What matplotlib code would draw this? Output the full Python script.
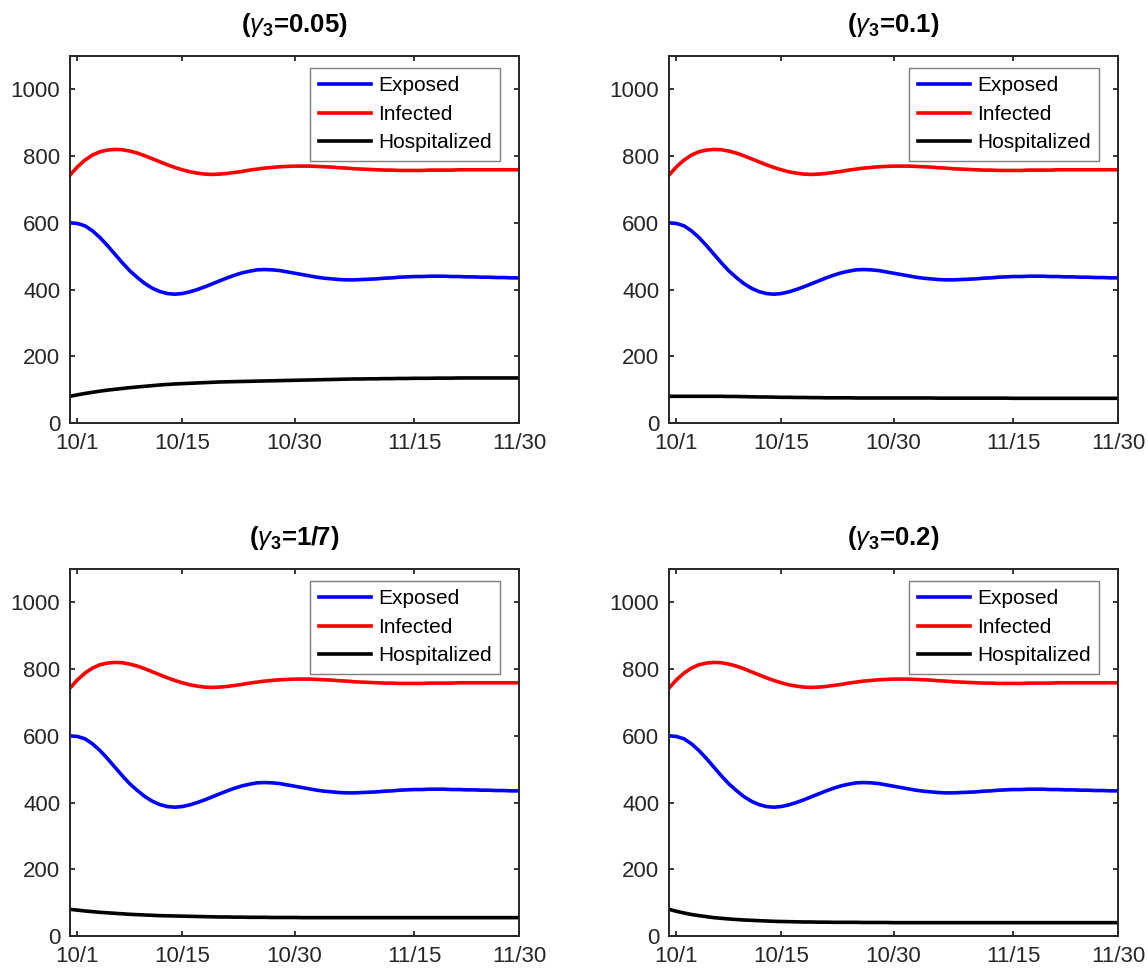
import matplotlib
matplotlib.use("Agg")
import matplotlib.pyplot as plt

plt.rcParams['font.family'] = ['Liberation Sans', 'DejaVu Sans']
plt.rcParams['mathtext.fontset'] = 'custom'
plt.rcParams['mathtext.rm'] = 'Liberation Sans'
plt.rcParams['mathtext.it'] = 'Liberation Sans:italic'
plt.rcParams['mathtext.bf'] = 'Liberation Sans:bold'

# days since 9/30
days = list(range(61))

exposed = [600, 598, 591, 576, 556, 532, 506, 480, 456, 436,
           418, 404, 394, 388, 386, 388, 393, 400, 408, 417,
           426, 435, 443, 450, 455, 459, 460, 459, 457, 453,
           449, 445, 441, 437, 434, 432, 430, 429, 429, 430,
           431, 432, 434, 435, 437, 438, 439, 439, 440, 440,
           440, 439, 439, 438, 438, 437, 437, 436, 436, 435, 435]
infected = [743, 768, 788, 803, 813, 818, 820, 819, 815, 809,
            801, 792, 783, 774, 766, 759, 753, 749, 746, 745,
            746, 748, 751, 754, 758, 761, 764, 766, 768, 769,
            770, 770, 770, 769, 768, 767, 765, 764, 762, 761,
            760, 759, 758, 758, 757, 757, 757, 757, 758, 758,
            758, 758, 759, 759, 759, 759, 759, 759, 759, 759, 759]

hosp_005 = [80, 84.5, 88.5, 92, 95.5, 98.5, 101, 103.5, 106, 108,
            110, 112, 114, 115.5, 117, 118, 119, 120, 121, 122,
            123, 123.5, 124, 124.5, 125, 125.5, 126, 126.5, 127, 127.5,
            128, 128.5, 129, 129.5, 130, 130.5, 131, 131.5, 132, 132,
            132.5, 132.5, 133, 133, 133.5, 133.5, 134, 134, 134, 134.5,
            134.5, 134.5, 135, 135, 135, 135, 135, 135, 135, 135, 135]
hosp_01 = [80, 80, 80, 80, 80, 80, 80, 80, 79.5, 79.5,
           79, 78.5, 78, 78, 77.5, 77, 77, 76.5, 76.5, 76,
           76, 75.5, 75.5, 75.5, 75.5, 75, 75, 75, 75, 75,
           75, 75, 75, 75, 75, 75, 74.5, 74.5, 74.5, 74.5,
           74.5, 74.5, 74.5, 74.5, 74.5, 74.5, 74, 74, 74, 74,
           74, 74, 74, 74, 74, 74, 74, 74, 74, 74, 74]
hosp_17 = [80, 77.5, 75, 73, 71, 69.5, 68, 66.5, 65, 64,
           63, 62, 61, 60.5, 60, 59.5, 59, 58.5, 58, 57.5,
           57, 57, 56.5, 56.5, 56, 56, 56, 55.5, 55.5, 55.5,
           55.5, 55, 55, 55, 55, 55, 55, 55, 55, 55,
           55, 55, 55, 55, 55, 55, 55, 55, 55, 55,
           55, 55, 55, 55, 55, 55, 55, 55, 55, 55, 55]
hosp_02 = [80, 74, 69, 64.5, 61, 58, 55, 53, 51, 49.5,
           48, 47, 46, 45, 44, 43.5, 43, 42.5, 42, 42,
           41.5, 41.5, 41, 41, 41, 41, 40.5, 40.5, 40.5, 40.5,
           40, 40, 40, 40, 40, 40, 40, 40, 40, 40,
           40, 40, 40, 40, 40, 40, 40, 40, 40, 40,
           40, 40, 40, 40, 40, 40, 40, 40, 40, 40, 40]

titles = [r'($\gamma_{\mathbf{3}}$=0.05)', r'($\gamma_{\mathbf{3}}$=0.1)',
          r'($\gamma_{\mathbf{3}}$=1/7)', r'($\gamma_{\mathbf{3}}$=0.2)']
hospitalized = [hosp_005, hosp_01, hosp_17, hosp_02]

tick_pos = [1, 15, 30, 46, 60]
tick_labels = ['10/1', '10/15', '10/30', '11/15', '11/30']

fig = plt.figure(figsize=(11.48, 9.74), dpi=100)
W, H = 1148, 974
rects = [(70, 423), (669, 423), (70, 936), (669, 936)]
dark = '#262626'

for (x0, y0), title, hosp in zip(rects, titles, hospitalized):
    ax = fig.add_axes([x0 / W, (H - y0) / H, 449 / W, 367 / H])
    ax.plot(days, exposed, color='#0000ff', lw=2.6, label='Exposed')
    ax.plot(days, infected, color='#ff0000', lw=2.6, label='Infected')
    ax.plot(days, hosp, color='black', lw=2.6, label='Hospitalized')

    ax.set_xlim(0, 60)
    ax.set_ylim(0, 1100)
    ax.set_xticks(tick_pos)
    ax.set_xticklabels(tick_labels)
    ax.set_yticks([0, 200, 400, 600, 800, 1000])
    ax.tick_params(direction='in', top=True, right=True, length=3.5, width=1.3,
                   labelsize=16, labelcolor=dark, color=dark)
    ax.tick_params(axis='x', pad=7.5)
    ax.tick_params(axis='y', pad=7)
    for sp in ax.spines.values():
        sp.set_linewidth(1.4)
        sp.set_color(dark)

    ax.text(0.5, 1.066, title, transform=ax.transAxes, ha='center', va='baseline',
            fontsize=18.5, fontweight='bold', color='black')

    leg = ax.legend(loc='upper right', bbox_to_anchor=(0.958, 0.967), borderaxespad=0,
                    fontsize=15, handlelength=2.5, handletextpad=0.35,
                    labelspacing=0.45, borderpad=0.4, fancybox=False, framealpha=1)
    leg.get_frame().set_edgecolor('#7f7f7f')
    leg.get_frame().set_linewidth(1.0)

fig.savefig('out.png', dpi=100)
